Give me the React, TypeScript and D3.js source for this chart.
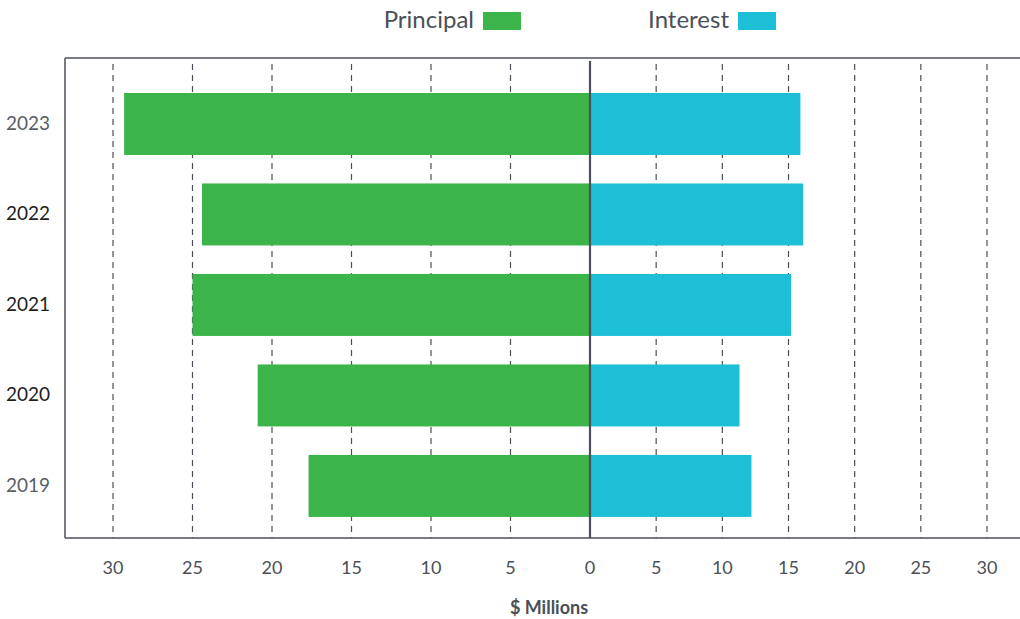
import React from 'react'
import * as d3 from 'd3'

const years = ['2023', '2022', '2021', '2020', '2019']
const principal = [29.3, 24.4, 25.0, 20.9, 17.7]
const interest = [15.9, 16.1, 15.2, 11.3, 12.2]
const ticks = [0, 5, 10, 15, 20, 25, 30]
const darkYears = ['2022', '2021', '2020']

const GREEN = '#3bb54a'
const CYAN = '#1cbfd5'
const GRID = '#4b4f57'
const TEXT = '#4a4f58'
const FONT = 'Lato, "Open Sans", sans-serif'

export default function App() {
  const width = 1020
  const height = 619
  const frame = { left: 65, top: 58, right: 1022, bottom: 538 }
  const zero = 590

  // left and right halves use their own scales, like the original
  const xLeft = d3.scaleLinear().domain([0, 30]).range([zero, 113])
  const xRight = d3.scaleLinear().domain([0, 30]).range([zero, 987])

  const y = d3.scaleBand()
    .domain(years)
    .range([78.5, 531.4])
    .paddingInner(0.315)
    .paddingOuter(0.16)

  const gridX = [
    ...ticks.filter(t => t > 0).map(t => xLeft(t)),
    ...ticks.filter(t => t > 0).map(t => xRight(t)),
  ]

  return (
    <svg width={width} height={height}
      style={{ position: 'absolute', left: 0, top: 0, fontFamily: FONT }}>
      {/* legend */}
      <text x={474} y={28} fontSize={24} fill={TEXT} textAnchor="end">Principal</text>
      <rect x={483} y={12} width={38} height={18} fill={GREEN} />
      <text x={729} y={28} fontSize={24} fill={TEXT} textAnchor="end">Interest</text>
      <rect x={738} y={12} width={38} height={18} fill={CYAN} />

      {/* dashed grid */}
      {gridX.map((x, i) => (
        <line key={i} x1={x} x2={x} y1={frame.top + 6} y2={frame.bottom}
          stroke={GRID} strokeWidth={1.2} strokeDasharray="6,5" />
      ))}

      {/* bars */}
      {years.map((yr, i) => (
        <g key={yr}>
          <rect x={xLeft(principal[i])} y={y(yr)} width={zero - xLeft(principal[i])}
            height={y.bandwidth()} fill={GREEN} />
          <rect x={zero} y={y(yr)} width={xRight(interest[i]) - zero}
            height={y.bandwidth()} fill={CYAN} />
          <text x={50} y={(y(yr) ?? 0) + y.bandwidth() / 2 + 6} fontSize={19}
            textAnchor="end" fill={darkYears.includes(yr) ? '#1e1e1e' : '#5a5e66'}>{yr}</text>
        </g>
      ))}

      {/* frame */}
      <line x1={frame.left} x2={frame.right} y1={frame.top} y2={frame.top} stroke={GRID} strokeWidth={1.5} />
      <line x1={frame.left} x2={frame.right} y1={frame.bottom} y2={frame.bottom} stroke={GRID} strokeWidth={1.5} />
      <line x1={frame.left} x2={frame.left} y1={frame.top} y2={frame.bottom} stroke={GRID} strokeWidth={1.5} />
      <line x1={zero} x2={zero} y1={frame.top + 3} y2={frame.bottom} stroke={GRID} strokeWidth={2.2} />

      {/* tick labels */}
      {ticks.filter(t => t > 0).map(t => (
        <text key={'l' + t} x={xLeft(t)} y={574} fontSize={18} fill={TEXT} textAnchor="middle">{t}</text>
      ))}
      <text x={zero} y={574} fontSize={18} fill={TEXT} textAnchor="middle">0</text>
      {ticks.filter(t => t > 0).map(t => (
        <text key={'r' + t} x={xRight(t)} y={574} fontSize={18} fill={TEXT} textAnchor="middle">{t}</text>
      ))}

      <text x={549} y={614} fontSize={18} fontWeight={700} fill={TEXT} textAnchor="middle">$ Millions</text>
    </svg>
  )
}
